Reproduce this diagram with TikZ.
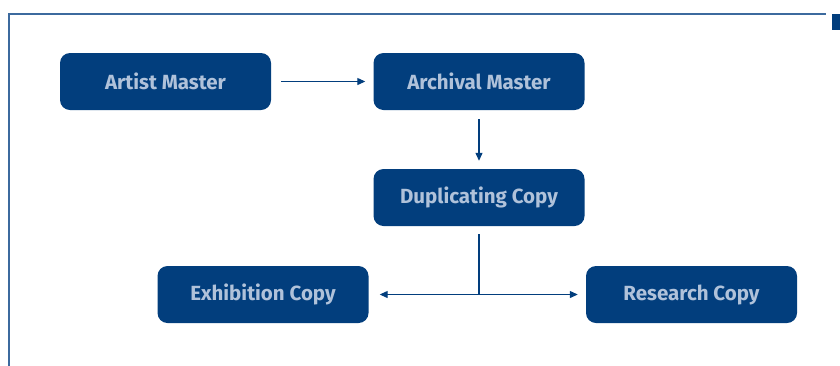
\documentclass[tikz,border=0pt]{standalone}
\usepackage{fontspec}
\setmainfont{Fira Sans}
\usetikzlibrary{arrows.meta}
\definecolor{navy}{HTML}{023E7D}
\definecolor{framec}{HTML}{3C6A9E}
\definecolor{labelc}{HTML}{B0C2DA}
\tikzset{
  x=1pt, y=-1pt,
  stage/.style={fill=navy, rounded corners=10pt, minimum width=211pt, minimum height=57pt,
    inner sep=0pt, text=labelc, font=\fontsize{20.5}{24}\selectfont\bfseries},
  flow/.style={draw=navy, line width=1.2pt, -{Triangle[length=8pt,width=7pt]}},
}
\begin{document}
\begin{tikzpicture}
\useasboundingbox (0,0) rectangle (840,365);
% outer frame
\draw[framec, line width=1.5pt] (9,366) -- (9,14) -- (826,14);
\fill[navy] (832,13.5) rectangle (841,30);

% stages
\node[stage] (artist) at (165.5,81.5) {Artist Master};
\node[stage] (archival) at (479,81.5) {Archival Master};
\node[stage] (dup) at (479,197.5) {Duplicating Copy};
\node[stage] (exhib) at (263,294.5) {Exhibition Copy};
\node[stage] (research) at (691.5,294.5) {Research Copy};

% connectors
\draw[flow, shorten <=10pt, shorten >=8pt] (artist.east) -- (archival.west);
\draw[flow, shorten <=9pt, shorten >=8pt] (archival.south) -- (dup.north);
\coordinate (split) at (dup.south |- exhib.east);
\draw[navy, line width=1.2pt, shorten <=8pt] (dup.south) -- (split);
\draw[flow, shorten >=11pt] (split) -- (exhib.east);
\draw[flow, shorten >=8pt] (split) -- (research.west);
\end{tikzpicture}
\end{document}
